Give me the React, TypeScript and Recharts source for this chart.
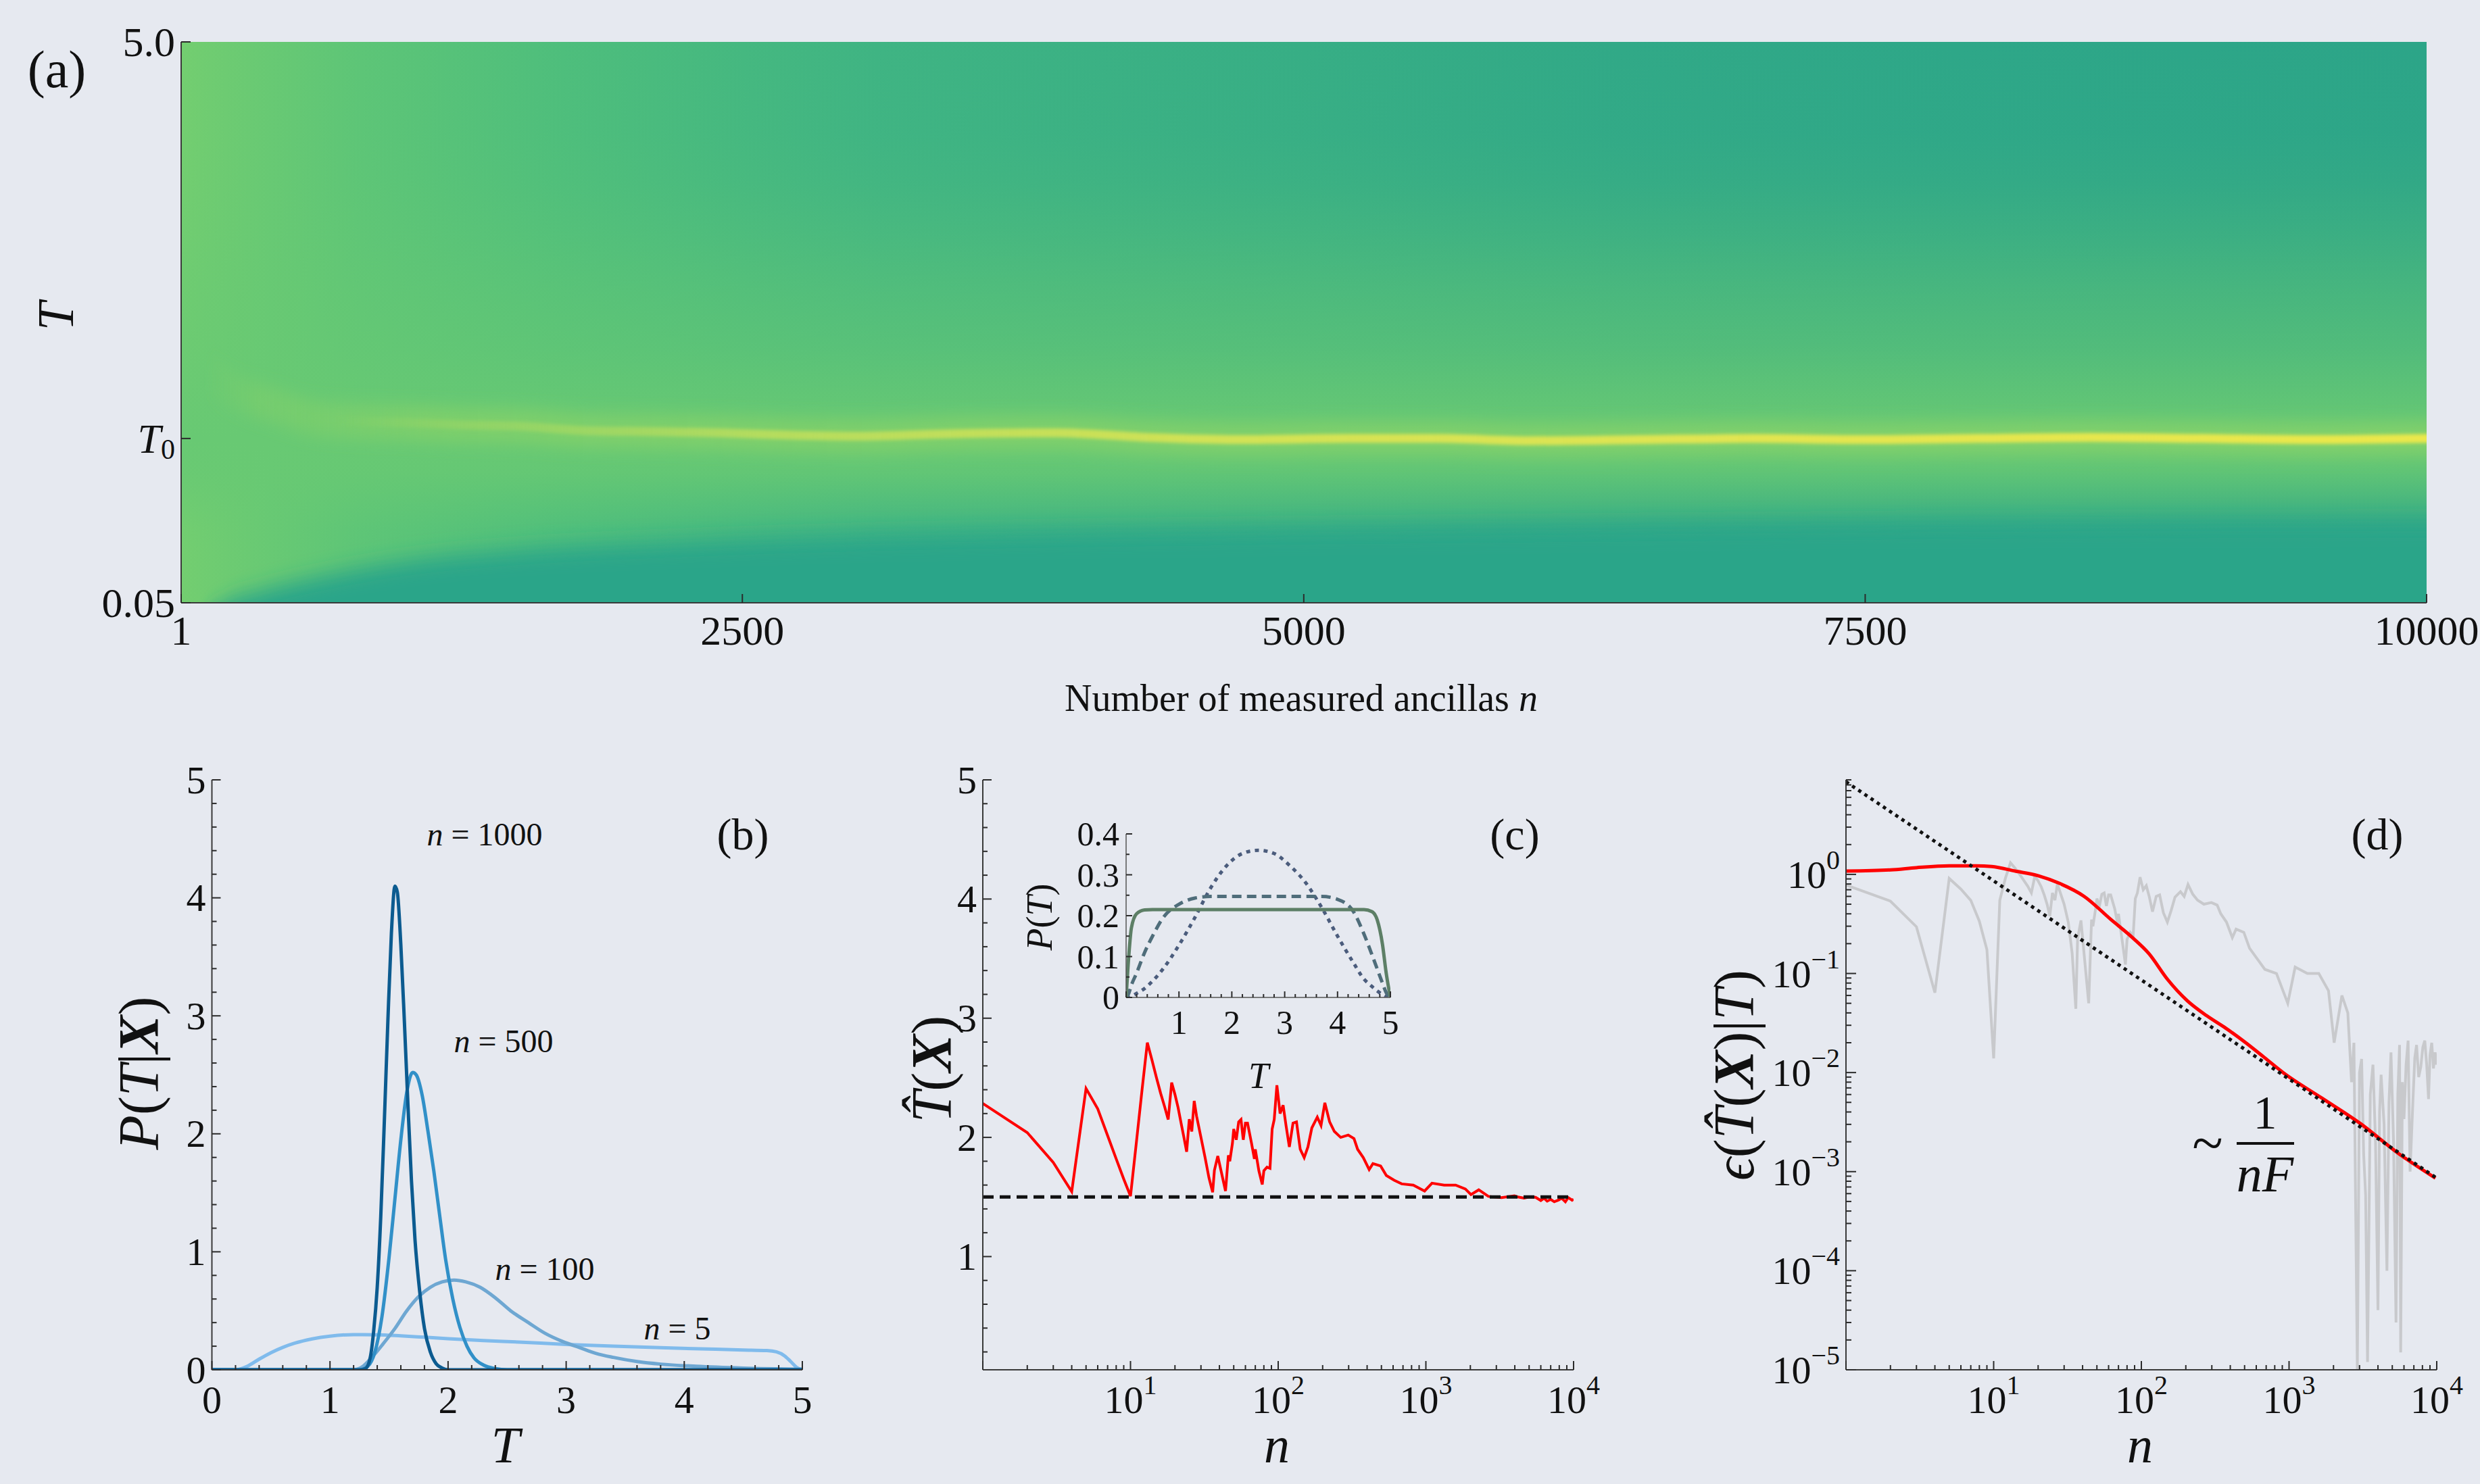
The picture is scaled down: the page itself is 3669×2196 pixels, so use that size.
import React from "react";
import { ComposedChart, Line, Area, XAxis, YAxis } from "recharts";

const FONT = '"Liberation Serif", "Times New Roman", Times, serif';
const BG = "#e6e9f0";
const INK = "#111111";
const TICK = "#2b2b2b";
const FRAME = "#3a3a3a";

// ---------- (a) posterior map P(T|X) vs n ----------
const aXDomain = [1, 10000];
const aYDomain = [0.05, 5];
const aXTicks = [1, 2500, 5000, 7500, 10000];
const aXLabels = ["1", "2500", "5000", "7500", "10000"];
const aYTicks = [0.05, 1.5, 5];
const aYLabels = ["0.05", "T0", "5.0"];
// ridge of the posterior (maximum) along n
const ridgeN = [100, 200, 400, 600, 800, 1000, 1250, 1500, 1800, 2100, 2400, 2700, 3000, 3400, 3900, 4300, 4700, 5200, 5600, 6000, 6500, 7000, 7500, 8000, 8500, 9000, 9500, 10000];
const ridgeT = [2.1, 1.95, 1.8, 1.68, 1.65, 1.64, 1.62, 1.61, 1.57, 1.56, 1.55, 1.53, 1.52, 1.54, 1.55, 1.51, 1.49, 1.5, 1.5, 1.48, 1.49, 1.5, 1.49, 1.5, 1.51, 1.5, 1.49, 1.5];
// upper edge of the low-probability region at small T
const lowN = [1, 50, 100, 200, 350, 550, 800, 1100, 1500, 2100, 3000, 4500, 6000, 8000, 10000];
const lowT = [-0.6, -0.3, -0.1, 0.05, 0.15, 0.25, 0.35, 0.44, 0.51, 0.57, 0.63, 0.68, 0.71, 0.74, 0.75];

// ---------- (b) posteriors for several n ----------
const bT5 = [0, 0.2, 0.3, 0.4, 0.5, 0.6, 0.7, 0.85, 1.0, 1.2, 1.4, 1.6, 1.8, 2.0, 2.3, 2.6, 3.0, 3.4, 3.8, 4.2, 4.5, 4.7, 4.78, 4.85, 4.9, 4.95, 5.0];
const bP5 = [0, 0, 0.03, 0.09, 0.145, 0.19, 0.225, 0.262, 0.285, 0.298, 0.297, 0.288, 0.276, 0.264, 0.248, 0.235, 0.215, 0.2, 0.187, 0.176, 0.168, 0.163, 0.152, 0.118, 0.072, 0.022, 0];
const bT100 = [0, 1.2, 1.28, 1.35, 1.45, 1.55, 1.65, 1.75, 1.85, 1.95, 2.05, 2.15, 2.27, 2.4, 2.53, 2.68, 2.82, 2.97, 3.11, 3.25, 3.4, 3.6, 3.8, 4.1, 4.5, 5.0];
const bP100 = [0, 0, 0.03, 0.1, 0.22, 0.35, 0.5, 0.62, 0.7, 0.745, 0.76, 0.745, 0.7, 0.61, 0.5, 0.4, 0.31, 0.24, 0.19, 0.14, 0.105, 0.07, 0.048, 0.03, 0.015, 0.005];
const bT500 = [0, 1.25, 1.32, 1.38, 1.44, 1.5, 1.55, 1.6, 1.65, 1.7, 1.73, 1.78, 1.83, 1.88, 1.93, 1.98, 2.04, 2.1, 2.16, 2.22, 2.3, 2.4, 2.5, 5];
const bP500 = [0, 0, 0.03, 0.15, 0.45, 0.95, 1.45, 1.95, 2.35, 2.52, 2.5, 2.33, 2.02, 1.68, 1.3, 0.93, 0.6, 0.36, 0.2, 0.1, 0.04, 0.01, 0, 0];
const bT1000 = [0, 1.25, 1.3, 1.34, 1.37, 1.4, 1.43, 1.46, 1.49, 1.52, 1.55, 1.57, 1.6, 1.63, 1.66, 1.69, 1.72, 1.76, 1.8, 1.85, 1.9, 1.95, 2.0, 5];
const bP1000 = [0, 0, 0.01, 0.1, 0.33, 0.7, 1.3, 2.1, 2.95, 3.7, 4.1, 4.05, 3.6, 2.95, 2.25, 1.6, 1.1, 0.66, 0.35, 0.15, 0.05, 0.015, 0, 0];

// ---------- (c) estimator T^(X) vs n ----------
const T0 = 1.5;
const cN = [1, 2, 3, 4, 5, 6, 7, 8, 9, 10, 11, 12, 13, 14, 15, 16, 17, 18, 19, 20, 21, 22, 23, 24, 25, 26, 27, 28, 30, 32, 34, 36, 37, 39, 44, 46, 47, 49, 50, 52, 54, 56, 58, 60, 62, 66, 69, 70, 74, 78, 80, 84, 88, 91, 94, 98, 103, 108, 113, 119, 126, 133, 141, 150, 159, 169, 184, 195, 207, 223, 240, 265, 298, 326, 345, 377, 413, 438, 494, 540, 610, 686, 822, 980, 1100, 1330, 1590, 1850, 2020, 2280, 2650, 3250, 3980, 4200, 4620, 5000, 5530, 6000, 6300, 6630, 7000, 7400, 7940, 8300, 8800, 9200, 9780, 10000];
const cEst = [2.285, 2.04, 1.79, 1.545, 2.41, 2.24, 2.015, 1.82, 1.65, 1.507, 1.976, 2.41, 2.795, 2.646, 2.5, 2.37, 2.26, 2.15, 2.46, 2.36, 2.25, 2.12, 2.0, 1.88, 2.153, 2.05, 2.306, 2.18, 2.0, 1.83, 1.66, 1.54, 1.724, 1.843, 1.55, 1.85, 1.8, 1.95, 2.07, 1.98, 2.13, 2.15, 1.98, 2.12, 2.12, 1.95, 1.82, 1.9, 1.72, 1.605, 1.72, 1.75, 1.74, 2.07, 2.15, 2.437, 2.2, 2.27, 2.1, 1.92, 2.12, 2.13, 1.9, 1.83, 1.92, 2.08, 2.17, 2.1, 2.29, 2.13, 2.05, 2.0, 2.02, 1.99, 1.9, 1.83, 1.73, 1.78, 1.76, 1.68, 1.64, 1.61, 1.6, 1.55, 1.616, 1.6, 1.6, 1.567, 1.52, 1.56, 1.505, 1.494, 1.51, 1.5, 1.49, 1.5, 1.497, 1.47, 1.49, 1.465, 1.48, 1.46, 1.475, 1.49, 1.46, 1.495, 1.473, 1.48];
// inset: priors P(T)
const inT = [0, 0.05, 0.1, 0.2, 0.35, 0.5, 0.7, 1.0, 1.3, 1.6, 1.9, 2.2, 2.5, 2.8, 3.1, 3.4, 3.7, 4.0, 4.3, 4.5, 4.65, 4.75, 4.85, 4.92, 5.0];
const inFlat = [0, 0.1, 0.17, 0.205, 0.214, 0.215, 0.215, 0.215, 0.215, 0.215, 0.215, 0.215, 0.215, 0.215, 0.215, 0.215, 0.215, 0.215, 0.215, 0.215, 0.21, 0.19, 0.13, 0.06, 0];
const inSoft = [0, 0.01, 0.03, 0.06, 0.11, 0.15, 0.195, 0.228, 0.243, 0.247, 0.247, 0.247, 0.247, 0.247, 0.247, 0.247, 0.247, 0.24, 0.21, 0.155, 0.105, 0.07, 0.035, 0.012, 0];
const inSine = [0, 0.001, 0.003, 0.01, 0.022, 0.04, 0.07, 0.128, 0.195, 0.268, 0.322, 0.352, 0.36, 0.352, 0.322, 0.28, 0.22, 0.15, 0.085, 0.045, 0.027, 0.016, 0.007, 0.002, 0];

// ---------- (d) error vs n ----------
const dN = [1, 2, 3, 5, 7.6, 9.7, 14, 20, 28, 41, 62, 88, 112, 151, 204, 276, 372, 502, 676, 912, 1660, 3020, 5490, 9800];
const dErr = [1.08, 1.11, 1.17, 1.22, 1.22, 1.2, 1.08, 0.97, 0.81, 0.6, 0.352, 0.227, 0.16, 0.0865, 0.0533, 0.0376, 0.0281, 0.0203, 0.0143, 0.01, 0.00555, 0.00308, 0.00153, 0.00086];
const gN = [1, 2, 3, 4, 5, 6, 7, 8, 9, 10, 11, 12, 13, 14, 15, 16, 17, 18, 19, 20, 21, 22, 23, 24, 25, 26, 27, 28, 30, 32, 34, 36, 37, 39, 44, 46, 47, 49, 50, 52, 54, 56, 58, 60, 62, 66, 69, 70, 74, 78, 80, 84, 88, 91, 94, 98, 103, 108, 113, 119, 126, 133, 141, 150, 159, 169, 184, 195, 207, 223, 240, 265, 298, 326, 345, 377, 413, 438, 494, 540, 610, 686, 822, 980, 1100, 1330, 1590, 1850, 2020, 2280, 2500, 2650, 2750, 2900, 3000, 3100, 3200, 3300, 3400, 3550, 3700, 3850, 4000, 4100, 4200, 4400, 4600, 4750, 4900, 5100, 5300, 5450, 5600, 5700, 5850, 6000, 6200, 6400, 6600, 6900, 7100, 7300, 7550, 7800, 8050, 8300, 8550, 8800, 9000, 9250, 9500, 9750, 10000];
const gErr = [0.78, 0.537, 0.296, 0.064, 0.91, 0.71, 0.547, 0.337, 0.174, 0.0139, 0.547, 0.91, 1.31, 1.15, 1.0, 0.87, 0.76, 0.65, 0.96, 0.86, 0.75, 0.62, 0.5, 0.38, 0.65, 0.55, 0.8, 0.68, 0.5, 0.33, 0.16, 0.044, 0.224, 0.343, 0.05, 0.35, 0.3, 0.45, 0.57, 0.48, 0.63, 0.65, 0.48, 0.62, 0.62, 0.45, 0.32, 0.4, 0.22, 0.123, 0.22, 0.26, 0.24, 0.57, 0.65, 0.937, 0.7, 0.77, 0.6, 0.42, 0.6, 0.62, 0.41, 0.33, 0.43, 0.59, 0.67, 0.6, 0.79, 0.63, 0.55, 0.5, 0.52, 0.49, 0.4, 0.33, 0.23, 0.28, 0.26, 0.18, 0.14, 0.11, 0.1, 0.05, 0.116, 0.1, 0.1, 0.067, 0.02, 0.06, 0.04, 0.008, 0.02, 0.00001, 0.01, 0.0137, 0.0015, 0.00058, 0.000012, 0.006, 0.012, 0.002, 0.00004, 0.004, 0.0095, 0.003, 0.0001, 0.005, 0.016, 0.002, 0.00003, 0.006, 0.019, 0.000015, 0.008, 0.0034, 0.012, 0.021, 0.001, 0.0052, 0.014, 0.019, 0.009, 0.0114, 0.018, 0.021, 0.012, 0.0054, 0.015, 0.02, 0.011, 0.016, 0.012];
const fitN = [1, 10000];
const fitErr = [8.6, 0.00086];

// ---------- helpers ----------
const steps = (a: number, b: number, s: number) =>
  Array.from({ length: Math.round((b - a) / s) + 1 }, (_, i) => Math.round((a + i * s) * 1e6) / 1e6);
const logTicks = (lo: number, hi: number) => {
  const out: number[] = [];
  for (let e = lo; e <= hi; e++) for (let m = 1; m <= 9; m++) out.push(+(m * Math.pow(10, e)).toPrecision(6));
  return out;
};
const isInt = (v: number) => Math.abs(v - Math.round(v)) < 1e-6;
const isDecade = (v: number) => Math.abs(Math.log10(v) - Math.round(Math.log10(v))) < 1e-6;
const pts = (xs: number[], ys: number[], k = "y") => xs.map((x, i) => ({ x, [k]: ys[i] }));

const pow10 = (v: number) => {
  const e = Math.round(Math.log10(v));
  return (
    <>
      <tspan>10</tspan>
      <tspan fontSize={40} dy={-22}>{e < 0 ? `\u2212${-e}` : `${e}`}</tspan>
    </>
  );
};

type TickOpts = {
  side: "bottom" | "left" | "right";
  isMajor: (v: number) => boolean;
  label?: (v: number) => React.ReactNode;
  gap?: number;
  size?: number;
  major?: number;
  minor?: number;
};

const mkTick = (o: TickOpts) => (p: any) => {
  const v = p.payload?.value;
  const big = o.isMajor(v);
  const len = big ? o.major ?? 13 : o.minor ?? 7;
  const lab = big && o.label ? o.label(v) : null;
  const fs = o.size ?? 58;
  const txt = { fontFamily: FONT, fontSize: fs, fill: INK, style: { fontFamily: FONT, fontSize: fs } };
  if (o.side === "bottom")
    return (
      <g>
        <line x1={p.x} x2={p.x} y1={p.y} y2={p.y - len} stroke={TICK} strokeWidth={2} />
        {lab != null && (
          <text x={p.x} y={p.y + (o.gap ?? 44)} textAnchor="middle" dominantBaseline="central" {...txt}>
            {lab}
          </text>
        )}
      </g>
    );
  if (o.side === "left")
    return (
      <g>
        <line x1={p.x} x2={p.x + len} y1={p.y} y2={p.y} stroke={TICK} strokeWidth={2} />
        {lab != null && (
          <text x={p.x - (o.gap ?? 9)} y={p.y} textAnchor="end" dominantBaseline="central" {...txt}>
            {lab}
          </text>
        )}
      </g>
    );
  return (
    <g>
      <line x1={p.x} x2={p.x - len} y1={p.y} y2={p.y} stroke={TICK} strokeWidth={2} />
    </g>
  );
};

const frame = { stroke: FRAME, strokeWidth: 2 };
const noAnim = { isAnimationActive: false, dot: false, activeDot: false } as const;
const aFont = { fontFamily: FONT, fontSize: 62, fill: INK, style: { fontFamily: FONT, fontSize: 62 } };

// ---------- panels ----------
function PanelA() {
  const box = [
    { x: aXDomain[0], band: aYDomain },
    { x: aXDomain[1], band: aYDomain },
  ];
  const low = lowN.map((x, i) => ({ x, band: [-1, lowT[i]] }));
  const ridge = pts(ridgeN, ridgeT, "t");

  const aLeft = (p: any) => {
    const i = aYTicks.indexOf(p.payload.value);
    const lab = aYLabels[i];
    return (
      <g>
        <line x1={p.x} x2={p.x + 14} y1={p.y} y2={p.y} stroke={TICK} strokeWidth={2} />
        <text x={p.x - 9} y={p.y} textAnchor="end" dominantBaseline="central" {...aFont}>
          {lab === "T0" ? (
            <>
              <tspan fontStyle="italic">T</tspan>
              <tspan fontSize={42} dy={16}>0</tspan>
            </>
          ) : (
            lab
          )}
        </text>
      </g>
    );
  };
  const aBottom = (p: any) => {
    const i = aXTicks.indexOf(p.payload.value);
    return (
      <g>
        <line x1={p.x} x2={p.x} y1={p.y} y2={p.y - 13} stroke={TICK} strokeWidth={2} />
        <text x={p.x} y={p.y + 41} textAnchor="middle" dominantBaseline="central" {...aFont}>
          {aXLabels[i]}
        </text>
      </g>
    );
  };

  return (
    <div style={{ position: "absolute", left: 0, top: 0 }}>
      <ComposedChart width={3669} height={1000} margin={{ top: 62, right: 79, bottom: 0, left: 0 }}>
        <defs>
          <linearGradient id="aBase" x1="0" y1="0" x2="1" y2="0">
            <stop offset="0" stopColor="#73ce70" />
            <stop offset="0.02" stopColor="#6dcb72" />
            <stop offset="0.08" stopColor="#5dc577" />
            <stop offset="0.17" stopColor="#4ebe7c" />
            <stop offset="0.25" stopColor="#45b880" />
            <stop offset="0.31" stopColor="#3fb483" />
            <stop offset="0.5" stopColor="#37ae85" />
            <stop offset="0.64" stopColor="#31a987" />
            <stop offset="0.79" stopColor="#2ea788" />
            <stop offset="1" stopColor="#2ca588" />
          </linearGradient>
          <linearGradient id="aGlow" x1="0" y1="0" x2="0" y2="1">
            <stop offset="0" stopColor="#68c973" stopOpacity={0} />
            <stop offset="0.162" stopColor="#68c973" stopOpacity={0.02} />
            <stop offset="0.253" stopColor="#68c973" stopOpacity={0.1} />
            <stop offset="0.343" stopColor="#68c973" stopOpacity={0.25} />
            <stop offset="0.444" stopColor="#68c973" stopOpacity={0.45} />
            <stop offset="0.545" stopColor="#68c973" stopOpacity={0.62} />
            <stop offset="0.636" stopColor="#68c973" stopOpacity={0.85} />
            <stop offset="0.707" stopColor="#68c973" stopOpacity={1} />
            <stop offset="0.768" stopColor="#68c973" stopOpacity={0.85} />
            <stop offset="0.824" stopColor="#68c973" stopOpacity={0.45} />
            <stop offset="0.869" stopColor="#68c973" stopOpacity={0.1} />
            <stop offset="0.909" stopColor="#68c973" stopOpacity={0} />
          </linearGradient>
          <linearGradient id="aHalo" x1="0" y1="0" x2="1" y2="0">
            <stop offset="0" stopColor="#86d168" stopOpacity={0} />
            <stop offset="0.025" stopColor="#86d168" stopOpacity={0.4} />
            <stop offset="0.1" stopColor="#8cd466" stopOpacity={0.6} />
            <stop offset="0.3" stopColor="#92d564" stopOpacity={0.55} />
            <stop offset="1" stopColor="#98d763" stopOpacity={0.55} />
          </linearGradient>
          <linearGradient id="aCore" x1="0" y1="0" x2="1" y2="0">
            <stop offset="0" stopColor="#a0d862" stopOpacity={0} />
            <stop offset="0.06" stopColor="#a0d862" stopOpacity={0} />
            <stop offset="0.12" stopColor="#a6d962" stopOpacity={0.45} />
            <stop offset="0.25" stopColor="#c2df5b" stopOpacity={0.8} />
            <stop offset="0.45" stopColor="#d6e354" stopOpacity={0.95} />
            <stop offset="0.7" stopColor="#e2e550" stopOpacity={1} />
            <stop offset="1" stopColor="#ebe84b" stopOpacity={1} />
          </linearGradient>
          <filter id="aBlurLow" filterUnits="userSpaceOnUse" x="0" y="0" width="3669" height="1100">
            <feGaussianBlur stdDeviation="0 16" />
          </filter>
          <filter id="aBlurHalo" filterUnits="userSpaceOnUse" x="0" y="0" width="3669" height="1100">
            <feGaussianBlur stdDeviation="0 12" />
          </filter>
          <filter id="aBlurCore" filterUnits="userSpaceOnUse" x="0" y="0" width="3669" height="1100">
            <feGaussianBlur stdDeviation="0 2.5" />
          </filter>
        </defs>
        <Area data={box} dataKey="band" type="linear" fill="url(#aBase)" fillOpacity={1} stroke="none" isAnimationActive={false} />
        <Area data={box} dataKey="band" type="linear" fill="url(#aGlow)" fillOpacity={1} stroke="none" isAnimationActive={false} />
        <Area data={low} dataKey="band" type="monotone" fill="#2ba589" fillOpacity={1} stroke="none" filter="url(#aBlurLow)" isAnimationActive={false} />
        <Line data={ridge} dataKey="t" type="monotone" stroke="url(#aHalo)" strokeWidth={50} filter="url(#aBlurHalo)" {...noAnim} />
        <Line data={ridge} dataKey="t" type="monotone" stroke="url(#aCore)" strokeWidth={13} filter="url(#aBlurCore)" {...noAnim} />
        <XAxis dataKey="x" type="number" domain={aXDomain} ticks={aXTicks} allowDataOverflow interval={0} height={108} tickSize={0} tickMargin={0} tickLine={false} axisLine={frame} tick={aBottom} />
        <YAxis type="number" domain={aYDomain} ticks={aYTicks} allowDataOverflow interval={0} width={268} tickSize={0} tickMargin={0} tickLine={false} axisLine={frame} tick={aLeft} />
        <XAxis xAxisId="top" orientation="top" type="number" domain={[0, 1]} height={0} tick={false} tickLine={false} axisLine={frame} />
        <YAxis yAxisId="right" orientation="right" type="number" domain={[0, 1]} width={0} tick={false} tickLine={false} axisLine={frame} />
      </ComposedChart>
    </div>
  );
}

function PanelB() {
  const lin = steps(0, 5, 0.2);
  return (
    <div style={{ position: "absolute", left: 0, top: 1100 }}>
      <ComposedChart width={1250} height={1096} margin={{ top: 54, right: 63, bottom: 69, left: 0 }}>
        <Line data={pts(bT5, bP5)} dataKey="y" type="monotone" stroke="#80bbec" strokeWidth={5} {...noAnim} />
        <Line data={pts(bT100, bP100)} dataKey="y" type="monotone" stroke="#6ea7d2" strokeWidth={5} {...noAnim} />
        <Line data={pts(bT500, bP500)} dataKey="y" type="monotone" stroke="#3190c8" strokeWidth={5} {...noAnim} />
        <Line data={pts(bT1000, bP1000)} dataKey="y" type="monotone" stroke="#0c5b90" strokeWidth={5} {...noAnim} />
        <XAxis dataKey="x" type="number" domain={[0, 5]} ticks={lin} allowDataOverflow interval={0} height={100} tickSize={0} tickMargin={0} tickLine={false} axisLine={frame}
          tick={mkTick({ side: "bottom", isMajor: isInt, label: (v) => String(Math.round(v)) })} />
        <YAxis type="number" domain={[0, 5]} ticks={lin} allowDataOverflow interval={0} width={313.5} tickSize={0} tickMargin={0} tickLine={false} axisLine={frame}
          tick={mkTick({ side: "left", isMajor: isInt, label: (v) => String(Math.round(v)) })} />
        <XAxis xAxisId="top" orientation="top" type="number" domain={[0, 1]} height={0} tick={false} tickLine={false} axisLine={frame} />
        <YAxis yAxisId="right" orientation="right" type="number" domain={[0, 1]} width={0} tick={false} tickLine={false} axisLine={frame} />
      </ComposedChart>
    </div>
  );
}

function PanelC() {
  const yt = steps(0.2, 5, 0.2);
  const xt = [...logTicks(0, 3), 10000];
  const ref = pts([1, 10000], [T0, T0]);
  return (
    <div style={{ position: "absolute", left: 1250, top: 1100 }}>
      <ComposedChart width={1150} height={1096} margin={{ top: 54, right: 72, bottom: 69, left: 0 }}>
        <Line data={pts(cN, cEst)} dataKey="y" type="linear" stroke="#ff0000" strokeWidth={4} {...noAnim} />
        <Line data={ref} dataKey="y" type="linear" stroke="#111" strokeWidth={5} strokeDasharray="16 9" {...noAnim} />
        <XAxis dataKey="x" type="number" scale="log" domain={[1, 10000]} ticks={xt} allowDataOverflow interval={0} height={100} tickSize={0} tickMargin={0} tickLine={false} axisLine={frame}
          tick={mkTick({ side: "bottom", isMajor: isDecade, label: (v) => (v > 1.5 ? pow10(v) : null) })} />
        <YAxis type="number" domain={[0.05, 5]} ticks={yt} allowDataOverflow interval={0} width={204} tickSize={0} tickMargin={0} tickLine={false} axisLine={frame}
          tick={mkTick({ side: "left", isMajor: isInt, label: (v) => String(Math.round(v)) })} />
        <XAxis xAxisId="top" orientation="top" type="number" domain={[0, 1]} height={0} tick={false} tickLine={false} axisLine={frame} />
        <YAxis yAxisId="right" orientation="right" type="number" domain={[0.05, 5]} ticks={yt} allowDataOverflow interval={0} width={0} tickSize={0} tickMargin={0} tickLine={false} axisLine={frame}
          tick={mkTick({ side: "right", isMajor: isInt })} />
      </ComposedChart>
    </div>
  );
}

function Inset() {
  const xt = steps(0, 5, 0.2);
  const yt = steps(0, 0.4, 0.05);
  const inFrame = { stroke: "#555", strokeWidth: 1.5 };
  return (
    <div style={{ position: "absolute", left: 1580, top: 1190 }}>
      <ComposedChart width={520} height={370} margin={{ top: 44, right: 43, bottom: 24, left: 0 }}>
        <Line data={pts(inT, inSine)} dataKey="y" type="monotone" stroke="#4b5c7c" strokeWidth={5} strokeDasharray="6 7" {...noAnim} />
        <Line data={pts(inT, inSoft)} dataKey="y" type="monotone" stroke="#4f6d7a" strokeWidth={5} strokeDasharray="14 8" {...noAnim} />
        <Line data={pts(inT, inFlat)} dataKey="y" type="monotone" stroke="#5d7f66" strokeWidth={5} {...noAnim} />
        <XAxis dataKey="x" type="number" domain={[0, 5]} ticks={xt} allowDataOverflow interval={0} height={60} tickSize={0} tickMargin={0} tickLine={false} axisLine={inFrame}
          tick={mkTick({ side: "bottom", isMajor: isInt, label: (v) => (v > 0.5 ? String(Math.round(v)) : null), gap: 37, size: 50, major: 9, minor: 5 })} />
        <YAxis type="number" domain={[0, 0.4]} ticks={yt} allowDataOverflow interval={0} width={86} tickSize={0} tickMargin={0} tickLine={false} axisLine={inFrame}
          tick={mkTick({ side: "left", isMajor: (v) => isInt(v * 10), label: (v) => (v < 0.01 ? "0" : v.toFixed(1)), gap: 10, size: 50, major: 9, minor: 5 })} />
        <XAxis xAxisId="top" orientation="top" type="number" domain={[0, 1]} height={0} tick={false} tickLine={false} axisLine={inFrame} />
        <YAxis yAxisId="right" orientation="right" type="number" domain={[0, 1]} width={0} tick={false} tickLine={false} axisLine={inFrame} />
      </ComposedChart>
    </div>
  );
}

function PanelD() {
  const xt = [...logTicks(0, 3), 10000];
  const yt = logTicks(-5, 0);
  return (
    <div style={{ position: "absolute", left: 2400, top: 1100 }}>
      <ComposedChart width={1269} height={1096} margin={{ top: 54, right: 64, bottom: 69, left: 0 }}>
        <Line data={pts(gN, gErr)} dataKey="y" type="linear" stroke="#c8c9cc" strokeWidth={4} {...noAnim} />
        <Line data={pts(dN, dErr)} dataKey="y" type="monotone" stroke="#ff0000" strokeWidth={5} {...noAnim} />
        <Line data={pts(fitN, fitErr)} dataKey="y" type="linear" stroke="#111" strokeWidth={5} strokeDasharray="5 6" {...noAnim} />
        <XAxis dataKey="x" type="number" scale="log" domain={[1, 10000]} ticks={xt} allowDataOverflow interval={0} height={100} tickSize={0} tickMargin={0} tickLine={false} axisLine={frame}
          tick={mkTick({ side: "bottom", isMajor: isDecade, label: (v) => (v > 1.5 ? pow10(v) : null) })} />
        <YAxis type="number" scale="log" domain={[0.00001, 9]} ticks={yt} allowDataOverflow interval={0} width={331} tickSize={0} tickMargin={0} tickLine={false} axisLine={frame}
          tick={mkTick({ side: "left", isMajor: isDecade, label: (v) => pow10(v), major: 15, minor: 8 })} />
        <XAxis xAxisId="top" orientation="top" type="number" domain={[0, 1]} height={0} tick={false} tickLine={false} axisLine={frame} />
        <YAxis yAxisId="right" orientation="right" type="number" scale="log" domain={[0.00001, 9]} ticks={yt} allowDataOverflow interval={0} width={0} tickSize={0} tickMargin={0} tickLine={false} axisLine={frame}
          tick={mkTick({ side: "right", isMajor: isDecade, major: 15, minor: 8 })} />
      </ComposedChart>
    </div>
  );
}

// ---------- text overlays ----------
const Txt = ({ x, y, size, rot, children, style }: any) => (
  <div
    style={{
      position: "absolute",
      left: x,
      top: y,
      fontSize: size,
      fontFamily: FONT,
      lineHeight: 1,
      whiteSpace: "nowrap",
      color: INK,
      transform: `translate(-50%, -50%)${rot ? ` rotate(${rot}deg)` : ""}`,
      ...style,
    }}
  >
    {children}
  </div>
);

function Texts() {
  return (
    <>
      <Txt x={84} y={103} size={78}>(a)</Txt>
      <Txt x={82} y={468} size={76} rot={-90}><i>T</i></Txt>
      <Txt x={1925} y={1033} size={56}>Number of measured ancillas <i>n</i></Txt>

      <Txt x={1099} y={1235} size={66}>(b)</Txt>
      <Txt x={2241} y={1235} size={66}>(c)</Txt>
      <Txt x={3517} y={1235} size={66}>(d)</Txt>

      <Txt x={717} y={1235} size={48}><i>n</i> = 1000</Txt>
      <Txt x={745} y={1541} size={48}><i>n</i> = 500</Txt>
      <Txt x={806} y={1878} size={48}><i>n</i> = 100</Txt>
      <Txt x={1002} y={1966} size={48}><i>n</i> = 5</Txt>

      <Txt x={206} y={1588} size={84} rot={-90}>
        <i>P</i>(<i>T</i>|<b><i>X</i></b>)
      </Txt>
      <Txt x={748} y={2138} size={76}><i>T</i></Txt>

      <Txt x={1379} y={1582} size={84} rot={-90}>
        <i>T&#770;</i>(<b><i>X</i></b>)
      </Txt>
      <Txt x={1889} y={2138} size={76}><i>n</i></Txt>

      <Txt x={2566} y={1591} size={84} rot={-90}>
        <i>&#1013;</i>(<i>T&#770;</i>(<b><i>X</i></b>)|<i>T</i>)
      </Txt>
      <Txt x={3166} y={2138} size={76}><i>n</i></Txt>

      <Txt x={1862} y={1592} size={54}><i>T</i></Txt>
      <Txt x={1538} y={1357} size={54} rot={-90}><i>P</i>(<i>T</i>)</Txt>

      <Txt x={3266} y={1692} size={84}>~</Txt>
      <Txt x={3351} y={1647} size={70}>1</Txt>
      <div style={{ position: "absolute", left: 3309, top: 1690, width: 85, height: 4, background: INK }} />
      <Txt x={3351} y={1737} size={76}><i>nF</i></Txt>
    </>
  );
}

export default function App() {
  return (
    <div style={{ position: "absolute", left: 0, top: 0, width: 3669, height: 2196, background: BG, overflow: "hidden" }}>
      <PanelA />
      <PanelB />
      <PanelC />
      <Inset />
      <PanelD />
      <Texts />
    </div>
  );
}
